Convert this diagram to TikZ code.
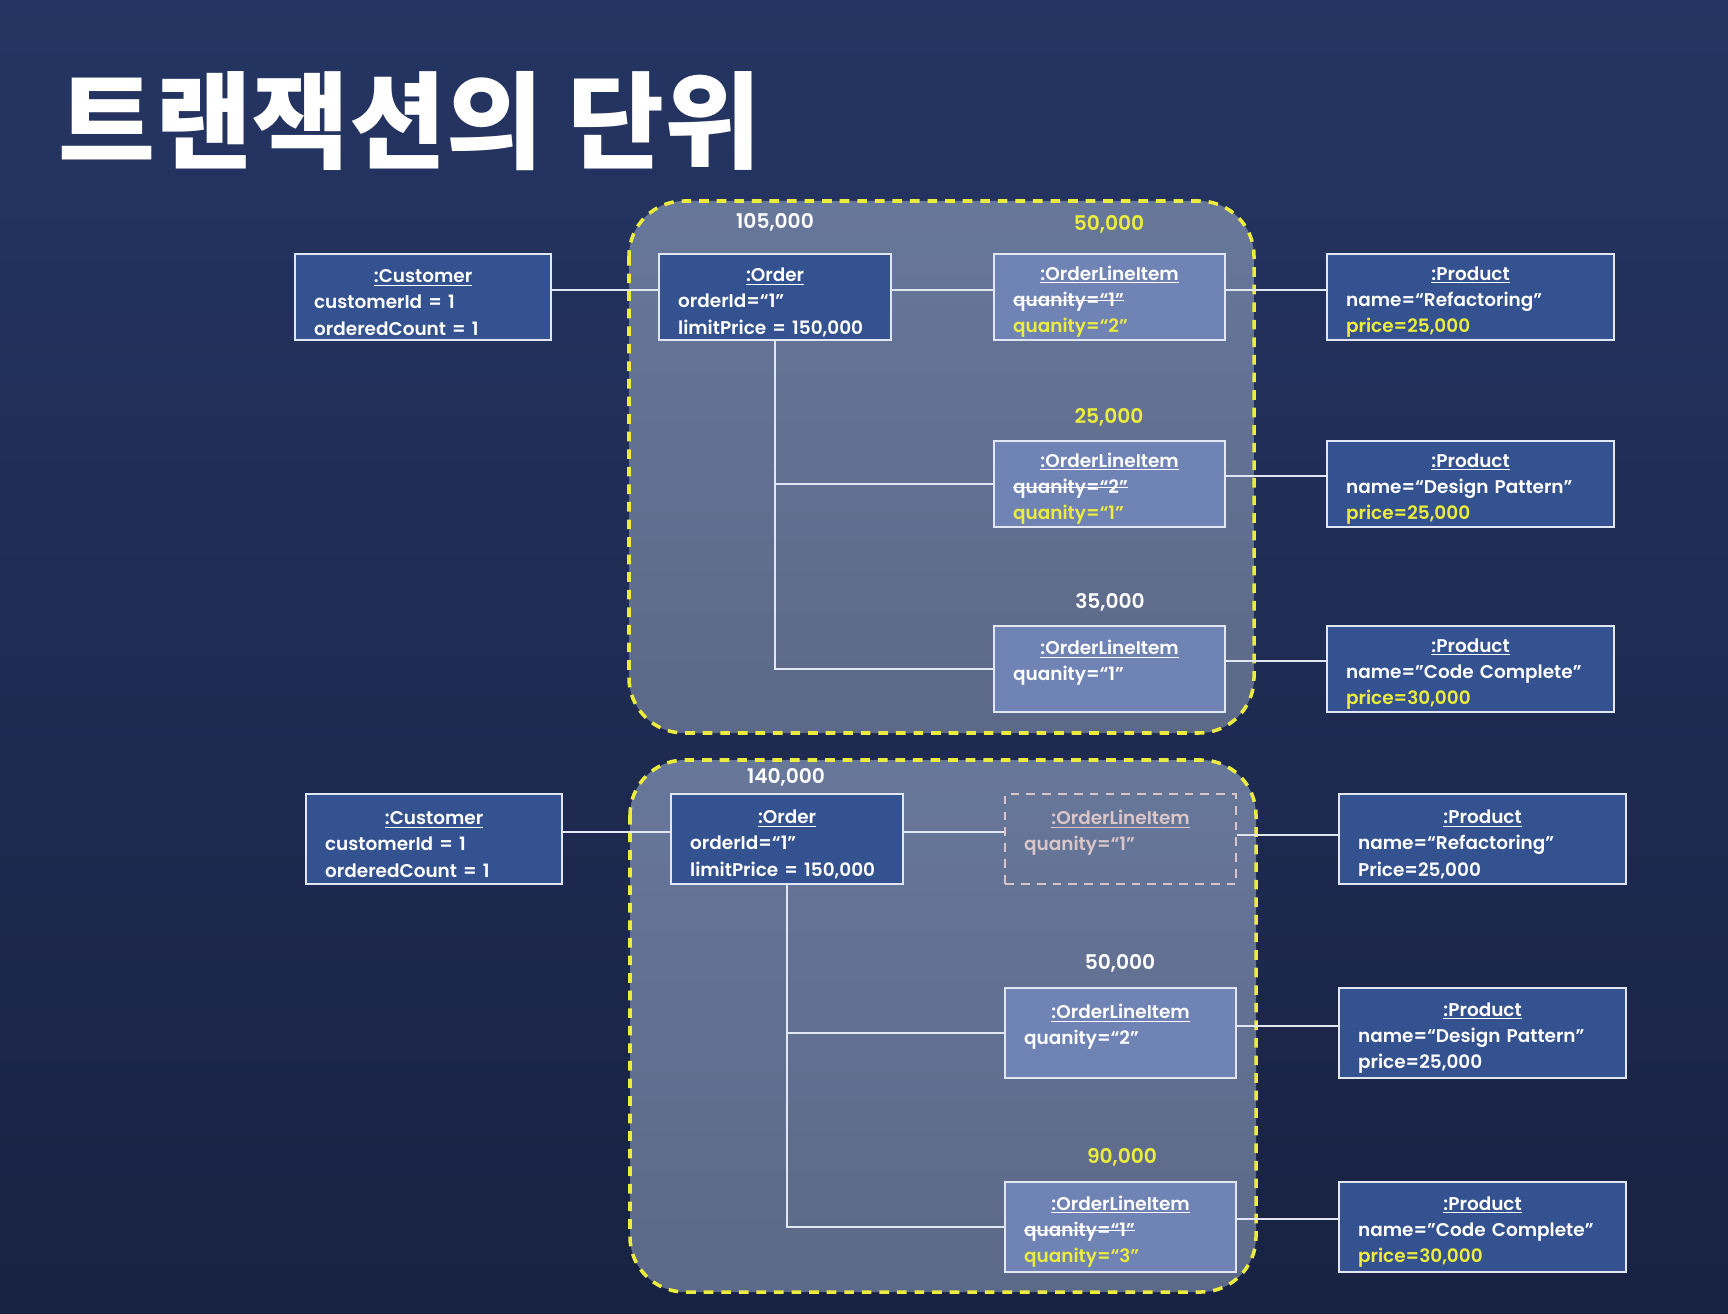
\documentclass[tikz,border=0pt]{standalone}
\usepackage{fontspec}
\setmainfont{Poppins}[UprightFont={* SemiBold}]
\newfontfamily\cjk{Noto Sans CJK KR}
\usetikzlibrary{positioning}

\definecolor{bgtop}{RGB}{37,53,99}
\definecolor{bgbot}{RGB}{24,34,66}
\definecolor{boxblue}{RGB}{52,82,143}
\definecolor{itemblue}{RGB}{112,131,181}
\definecolor{regtop}{RGB}{103,119,154}
\definecolor{regbot}{RGB}{92,105,136}
\definecolor{edgegray}{RGB}{225,230,242}
\definecolor{hiyellow}{RGB}{236,236,62}
\definecolor{ghost}{RGB}{218,198,200}

\newcommand{\objtitle}[1]{\rule{0pt}{13.5pt}\hspace*{\fill}\underline{#1}\hspace*{\fill}\mbox{}}
\newcommand{\strikeout}[1]{\leavevmode\hbox{\setbox0\hbox{#1}\copy0\kern-\wd0\vrule height 0.37em depth -0.29em width \wd0}}

\begin{document}
\begin{tikzpicture}[x=0.02cm, y=-0.02cm,
    objbox/.style={draw=edgegray, line width=1.3pt, fill=boxblue, anchor=north west,
        text=white, align=left, inner xsep=0.38cm, inner ysep=0pt,
        minimum height=1.72cm, font=\fontsize{10.5}{15}\selectfont},
    itembox/.style={objbox, fill=itemblue, text width=3.86cm},
    ghostbox/.style={objbox, fill=none, draw=ghost, dashed, dash pattern=on 5pt off 4pt, text=ghost, text width=3.86cm},
    prodbox/.style={objbox, text width=4.98cm},
    region/.style={draw=hiyellow, line width=2pt, dash pattern=on 5.5pt off 4.5pt,
        rounded corners=1.1cm, top color=regtop, bottom color=regbot},
    amount/.style={text=white, font=\fontsize{11.5}{13}\selectfont},
    link/.style={draw=edgegray, line width=1.1pt}]

    \shade[top color=bgtop, bottom color=bgbot] (0,0) rectangle (1728,1314);
    \useasboundingbox (0,0) rectangle (1728,1314);

    \node[anchor=west, text=white, font=\cjk\bfseries\fontsize{60}{70}\selectfont] (title) at (52,121) {트랜잭션의 단위};

    % first transaction
    \path[region] (629,201) rectangle (1254,733);

    \node[objbox, text width=4.36cm] (cust1) at (294,253) {\objtitle{:Customer}\\ customerId = 1\\ orderedCount = 1};
    \node[objbox, text width=3.88cm] (ord1) at (658,253) {\objtitle{:Order}\\ orderId=“1”\\ limitPrice = 150,000};
    \node[itembox] (item1a) at (993,253) {\objtitle{:OrderLineItem}\\ \strikeout{quanity=“1”}\\ \textcolor{hiyellow}{quanity=“2”}};
    \node[prodbox] (prod1a) at (1326,253) {\objtitle{:Product}\\ name=“Refactoring”\\ \textcolor{hiyellow}{price=25,000}};
    \node[itembox] (item1b) at (993,440) {\objtitle{:OrderLineItem}\\ \strikeout{quanity=“2”}\\ \textcolor{hiyellow}{quanity=“1”}};
    \node[prodbox] (prod1b) at (1326,440) {\objtitle{:Product}\\ name=“Design Pattern”\\ \textcolor{hiyellow}{price=25,000}};
    \node[itembox] (item1c) at (993,625) {\objtitle{:OrderLineItem}\\ quanity=“1”\\ \mbox{}};
    \node[prodbox] (prod1c) at (1326,625) {\objtitle{:Product}\\ name=”Code Complete”\\ \textcolor{hiyellow}{price=30,000}};

    \node[amount] (sum1) at (775,222) {105,000};
    \node[amount, text=hiyellow] (sub1a) at (1109,224) {50,000};
    \node[amount, text=hiyellow] (sub1b) at (1109,417) {25,000};
    \node[amount] (sub1c) at (1110,602) {35,000};

    \draw[link] ([yshift=0.14cm]cust1.east) -- ([yshift=0.14cm]ord1.west);
    \draw[link] ([yshift=0.14cm]ord1.east) -- ([yshift=0.14cm]item1a.west);
    \draw[link] ([yshift=0.14cm]item1a.east) -- ([yshift=0.14cm]prod1a.west);
    \draw[link] (ord1.south) |- (item1c.west);
    \draw[link] (ord1.south |- item1b.west) -- (item1b.west);
    \draw[link] ([yshift=0.17cm]item1b.east) -- ([yshift=0.17cm]prod1b.west);
    \draw[link] ([yshift=0.16cm]item1c.east) -- ([yshift=0.16cm]prod1c.west);

    % second transaction
    \path[region] (630,760) rectangle (1256,1292);

    \node[objbox, text width=4.36cm, minimum height=1.8cm] (cust2) at (305,793) {\objtitle{:Customer}\\ customerId = 1\\ orderedCount = 1};
    \node[objbox, text width=3.88cm, minimum height=1.8cm] (ord2) at (670,793) {\objtitle{:Order}\\ orderId=“1”\\ limitPrice = 150,000};
    \node[ghostbox, minimum height=1.8cm] (item2a) at (1004,793) {\objtitle{:OrderLineItem}\\ quanity=“1”\\ \mbox{}};
    \node[prodbox, minimum height=1.8cm] (prod2a) at (1338,793) {\objtitle{:Product}\\ name=“Refactoring”\\ Price=25,000};
    \node[itembox, minimum height=1.8cm] (item2b) at (1004,987) {\objtitle{:OrderLineItem}\\ quanity=“2”\\ \mbox{}};
    \node[prodbox, minimum height=1.8cm] (prod2b) at (1338,987) {\objtitle{:Product}\\ name=“Design Pattern”\\ price=25,000};
    \node[itembox, minimum height=1.8cm] (item2c) at (1004,1181) {\objtitle{:OrderLineItem}\\ \strikeout{quanity=“1”}\\ \textcolor{hiyellow}{quanity=“3”}};
    \node[prodbox, minimum height=1.8cm] (prod2c) at (1338,1181) {\objtitle{:Product}\\ name=”Code Complete”\\ \textcolor{hiyellow}{price=30,000}};

    \node[amount] (sum2) at (786,777) {140,000};
    \node[amount] (sub2b) at (1120,963) {50,000};
    \node[amount, text=hiyellow] (sub2c) at (1122,1157) {90,000};

    \draw[link] ([yshift=0.14cm]cust2.east) -- ([yshift=0.14cm]ord2.west);
    \draw[link] ([yshift=0.14cm]ord2.east) -- ([yshift=0.14cm]item2a.west);
    \draw[link] ([yshift=0.08cm]item2a.east) -- ([yshift=0.08cm]prod2a.west);
    \draw[link] (ord2.south) |- (item2c.west);
    \draw[link] (ord2.south |- item2b.west) -- (item2b.west);
    \draw[link] ([yshift=0.14cm]item2b.east) -- ([yshift=0.14cm]prod2b.west);
    \draw[link] ([yshift=0.16cm]item2c.east) -- ([yshift=0.16cm]prod2c.west);
\end{tikzpicture}
\end{document}
